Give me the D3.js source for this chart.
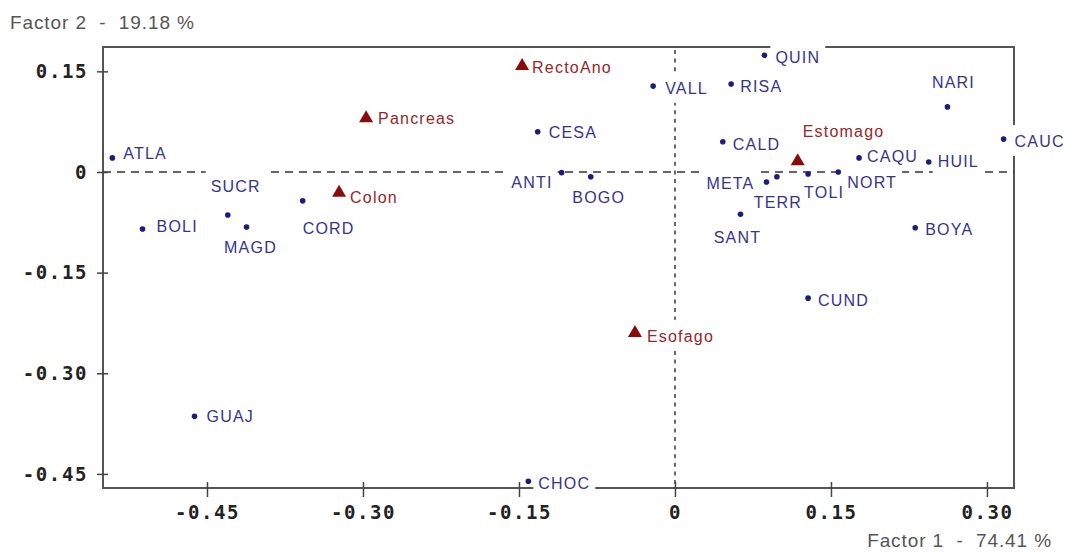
<!DOCTYPE html>
<html>
<head>
<meta charset="utf-8">
<script src="https://cdn.jsdelivr.net/npm/d3@7"></script>
<style>
  html, body { margin: 0; padding: 0; background: #fff; }
  svg { display: block; }
  text { white-space: pre; }
</style>
</head>
<body>
<svg id="chart"></svg>
<script>
// departments (blue points)
const deptNames = ["ATLA", "BOLI", "SUCR", "MAGD", "CORD", "GUAJ", "CHOC", "ANTI", "BOGO", "CESA",
  "VALL", "QUIN", "RISA", "NARI", "CAUC", "CALD", "CAQU", "HUIL", "META", "TERR",
  "TOLI", "NORT", "SANT", "BOYA", "CUND"];
const deptF1 = [-0.541, -0.512, -0.430, -0.412, -0.358, -0.462, -0.141, -0.109, -0.081, -0.132,
  -0.021, 0.086, 0.054, 0.262, 0.316, 0.046, 0.177, 0.244, 0.088, 0.098,
  0.128, 0.157, 0.063, 0.231, 0.128];
const deptF2 = [0.021, -0.085, -0.064, -0.082, -0.043, -0.364, -0.461, -0.001, -0.007, 0.060,
  0.128, 0.174, 0.131, 0.097, 0.049, 0.045, 0.021, 0.015, -0.015, -0.007,
  -0.003, 0.000, -0.063, -0.083, -0.188];

// cancer sites (red triangles)
const siteNames = ["RectoAno", "Pancreas", "Colon", "Estomago", "Esofago"];
const siteF1 = [-0.147, -0.297, -0.323, 0.118, -0.0385];
const siteF2 = [0.158, 0.080, -0.031, 0.016, -0.240];

const tickValues = [-0.45, -0.30, -0.15, 0, 0.15, 0.30];
const xTitle = "Factor 1  -  74.41 %";
const yTitle = "Factor 2  -  19.18 %";

// where each label sits relative to its marker: [dx, dy, anchor]
const labelPlace = {
  ATLA: [11, -5, "start"], BOLI: [14, -3, "start"], SUCR: [8, -29, "middle"],
  MAGD: [4, 20, "middle"], CORD: [0, 27, "start"], GUAJ: [12, 0, "start"],
  CHOC: [10, 2, "start"], ANTI: [-9, 10, "end"], BOGO: [8, 21, "middle"],
  CESA: [11, 1, "start"], VALL: [12, 2, "start"], QUIN: [11, 2, "start"],
  RISA: [9, 2, "start"], NARI: [6, -25, "middle"], CAUC: [11, 2, "start"],
  CALD: [10, 2, "start"], CAQU: [8, -2, "start"], HUIL: [9, -1, "start"],
  META: [-12, 1, "end"], TERR: [1, 26, "middle"], TOLI: [16, 18, "middle"],
  NORT: [9, 10, "start"], SANT: [-3, 23, "middle"], BOYA: [10, 2, "start"],
  CUND: [10, 2, "start"],
  RectoAno: [10, 1, "start"], Pancreas: [12, 0, "start"], Colon: [11, 4, "start"],
  Estomago: [5, -30, "start"], Esofago: [12, 3, "start"]
};

const W = 1069, H = 552;
const margin = { top: 47, right: 55, bottom: 64, left: 103 };
const width = W - margin.left - margin.right;
const height = H - margin.top - margin.bottom;

const svg = d3.select("#chart").attr("width", W).attr("height", H);
const g = svg.append("g").attr("transform", `translate(${margin.left},${margin.top})`);

const x = d3.scaleLinear().domain([-0.55, 0.326]).range([0, width]);
const y = d3.scaleLinear().domain([-0.471, 0.1863]).range([height, 0]);

const fmt = d => d === 0 ? "0" : d.toFixed(2);

// frame
g.append("rect")
  .attr("width", width).attr("height", height)
  .attr("fill", "none").attr("stroke", "#555").attr("stroke-width", 2);

// zero lines
g.append("line")
  .attr("x1", 0).attr("x2", width).attr("y1", y(0)).attr("y2", y(0))
  .attr("stroke", "#333").attr("stroke-width", 1.5).attr("stroke-dasharray", "8,6");
g.append("line")
  .attr("x1", x(0)).attr("x2", x(0)).attr("y1", 3).attr("y2", height)
  .attr("stroke", "#666").attr("stroke-width", 2).attr("stroke-dasharray", "4,4.6");

// axes
const xAxis = g.append("g")
  .attr("transform", `translate(0,${height})`)
  .call(d3.axisBottom(x).tickValues(tickValues).tickFormat(fmt).tickSize(9).tickPadding(7));
xAxis.select(".domain").remove();
xAxis.selectAll(".tick line").attr("y1", -6).attr("stroke", "#444").attr("stroke-width", 1.5);

const yAxis = g.append("g")
  .call(d3.axisLeft(y).tickValues([0.15, 0, -0.15, -0.30, -0.45]).tickFormat(fmt).tickSize(6).tickPadding(9));
yAxis.select(".domain").remove();
yAxis.selectAll(".tick line").attr("x1", 5).attr("stroke", "#444").attr("stroke-width", 1.5);

svg.selectAll(".tick text")
  .attr("font-family", "'DejaVu Sans Mono', monospace")
  .attr("font-weight", "bold")
  .attr("font-size", 19)
  .attr("letter-spacing", 1.6)
  .attr("fill", "#222");
xAxis.selectAll(".tick text").attr("dy", "0.78em");

// axis titles
svg.append("text")
  .attr("x", 10).attr("y", 29)
  .attr("font-family", "'Liberation Sans', Arial, sans-serif")
  .attr("font-size", 19).attr("letter-spacing", 0.9)
  .attr("fill", "#555")
  .text(yTitle);
svg.append("text")
  .attr("x", 1052).attr("y", 547)
  .attr("text-anchor", "end")
  .attr("font-family", "'Liberation Sans', Arial, sans-serif")
  .attr("font-size", 19).attr("letter-spacing", 0.9)
  .attr("fill", "#555")
  .text(xTitle);

// point tables
const depts = deptNames.map((n, i) => ({ name: n, f1: deptF1[i], f2: deptF2[i], kind: "dept" }));
const sites = siteNames.map((n, i) => ({ name: n, f1: siteF1[i], f2: siteF2[i], kind: "site" }));
const all = depts.concat(sites);

// labels with white boxes behind them (boxes first, then text)
const boxLayer = g.append("g");
const textLayer = g.append("g");

textLayer.selectAll("text")
  .data(all)
  .join("text")
  .attr("x", d => x(d.f1) + labelPlace[d.name][0])
  .attr("y", d => y(d.f2) + labelPlace[d.name][1])
  .attr("dy", "0.36em")
  .attr("text-anchor", d => labelPlace[d.name][2])
  .attr("font-family", "'Liberation Sans', Arial, sans-serif")
  .attr("font-size", 16)
  .attr("letter-spacing", 1.2)
  .attr("fill", d => d.kind === "dept" ? "#34348f" : "#9a2626")
  .text(d => d.name)
  .each(function () {
    const b = this.getBBox();
    boxLayer.append("rect")
      .attr("x", b.x - 5).attr("y", b.y - 8)
      .attr("width", b.width + 10).attr("height", b.height + 14)
      .attr("fill", "#fff");
  });

// markers
g.selectAll(".dot")
  .data(depts)
  .join("circle")
  .attr("class", "dot")
  .attr("cx", d => x(d.f1))
  .attr("cy", d => y(d.f2))
  .attr("r", 2.8)
  .attr("fill", "#1c1c7e");

g.selectAll(".tri")
  .data(sites)
  .join("path")
  .attr("class", "tri")
  .attr("d", d3.symbol(d3.symbolTriangle, 85))
  .attr("transform", d => `translate(${x(d.f1)},${y(d.f2)})`)
  .attr("fill", "#8b0b0b");
</script>
</body>
</html>
